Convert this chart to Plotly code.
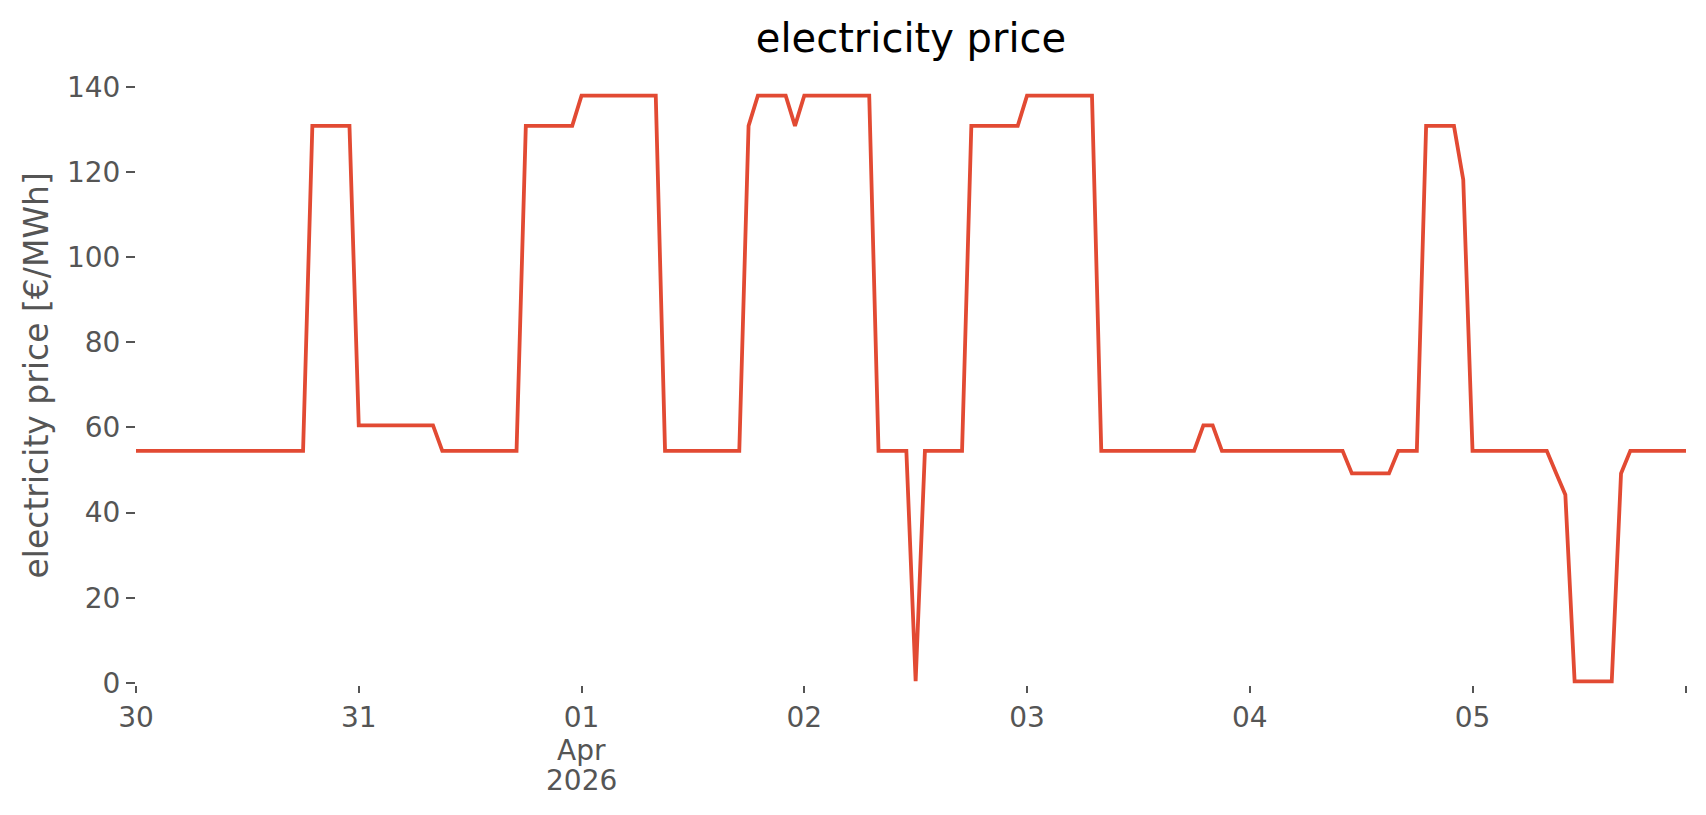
import pandas as pd
import plotly.graph_objects as go

# hourly prices [€/MWh], one list per day
mar30 = [54.5]*19 + [130.8]*5
mar31 = [60.5]*9 + [54.5]*9 + [130.8]*6
apr01 = [137.9]*9 + [54.5]*9 + [130.8] + [137.9]*4 + [130.8]
apr02 = [137.9]*8 + [54.5]*4 + [0.4] + [54.5]*5 + [130.8]*6
apr03 = [137.9]*8 + [54.5]*11 + [60.5]*2 + [54.5]*3
apr04 = [54.5]*11 + [49.2]*5 + [54.5]*3 + [130.8]*4 + [118.2]
apr05 = [54.5]*9 + [49.3, 44.2] + [0.4]*5 + [49.2] + [54.5]*7

prices = mar30 + mar31 + apr01 + apr02 + apr03 + apr04 + apr05
times = pd.date_range("2026-03-30 00:00", periods=len(prices), freq="h")

tick_dates = ["2026-03-30 00:00", "2026-03-31 00:00", "2026-04-01 00:00", "2026-04-02 00:00",
              "2026-04-03 00:00", "2026-04-04 00:00", "2026-04-05 00:00", "2026-04-05 23:00"]
tick_text = ["30", "31", "01", "02", "03", "04", "05", ""]
month_label, year_label = "Apr", "2026"
y_ticks = [0, 20, 40, 60, 80, 100, 120, 140]

fig = go.Figure()
fig.add_trace(go.Scatter(x=times, y=prices, mode="lines",
                         line=dict(color="#E24A33", width=3.8),
                         showlegend=False))

# page body has an 8px margin; figure sized to fit the 1706x815 window
W, H = 1690, 799
L, R, T, B = 128, 12, 58, 122

tick_font = dict(family="DejaVu Sans", size=28, color="#555555")

fig.update_layout(
    width=W, height=H,
    margin=dict(l=L, r=R, t=T, b=B),
    paper_bgcolor="white", plot_bgcolor="white",
    font=dict(family="DejaVu Sans", color="#555555", size=28),
    title=dict(text="electricity price", x=0.5, xref="paper",
               y=1 - 44 / H, yref="container", yanchor="bottom",
               font=dict(family="DejaVu Sans", size=40, color="black")),
    xaxis=dict(range=[times[0], times[-1]], tickmode="array",
               tickvals=list(tick_dates), ticktext=tick_text,
               ticks="outside", ticklen=7, tickwidth=1.5, tickcolor="#555555",
               showgrid=False, zeroline=False, showline=False, automargin=False,
               tickfont=tick_font),
    yaxis=dict(range=[-0.47, 144.87], tickmode="array", tickvals=y_ticks,
               ticks="outside", ticklen=9, tickwidth=1.5, tickcolor="#555555",
               showgrid=False, zeroline=False, showline=False, automargin=False,
               tickfont=tick_font),
    annotations=[
        dict(text="electricity price [€/MWh]", textangle=-90,
             xref="paper", yref="paper",
             x=(28 - L) / (W - L - R), y=0.5,
             xanchor="center", yanchor="middle", showarrow=False,
             font=dict(family="DejaVu Sans", size=33, color="#555555")),
        dict(text=month_label, xref="x", yref="paper", x=tick_dates[2], y=0,
             xanchor="center", yanchor="middle", yshift=-65, showarrow=False,
             font=tick_font),
        dict(text=year_label, xref="x", yref="paper", x=tick_dates[2], y=0,
             xanchor="center", yanchor="middle", yshift=-95, showarrow=False,
             font=tick_font),
    ],
)

fig.write_html("out.html")
